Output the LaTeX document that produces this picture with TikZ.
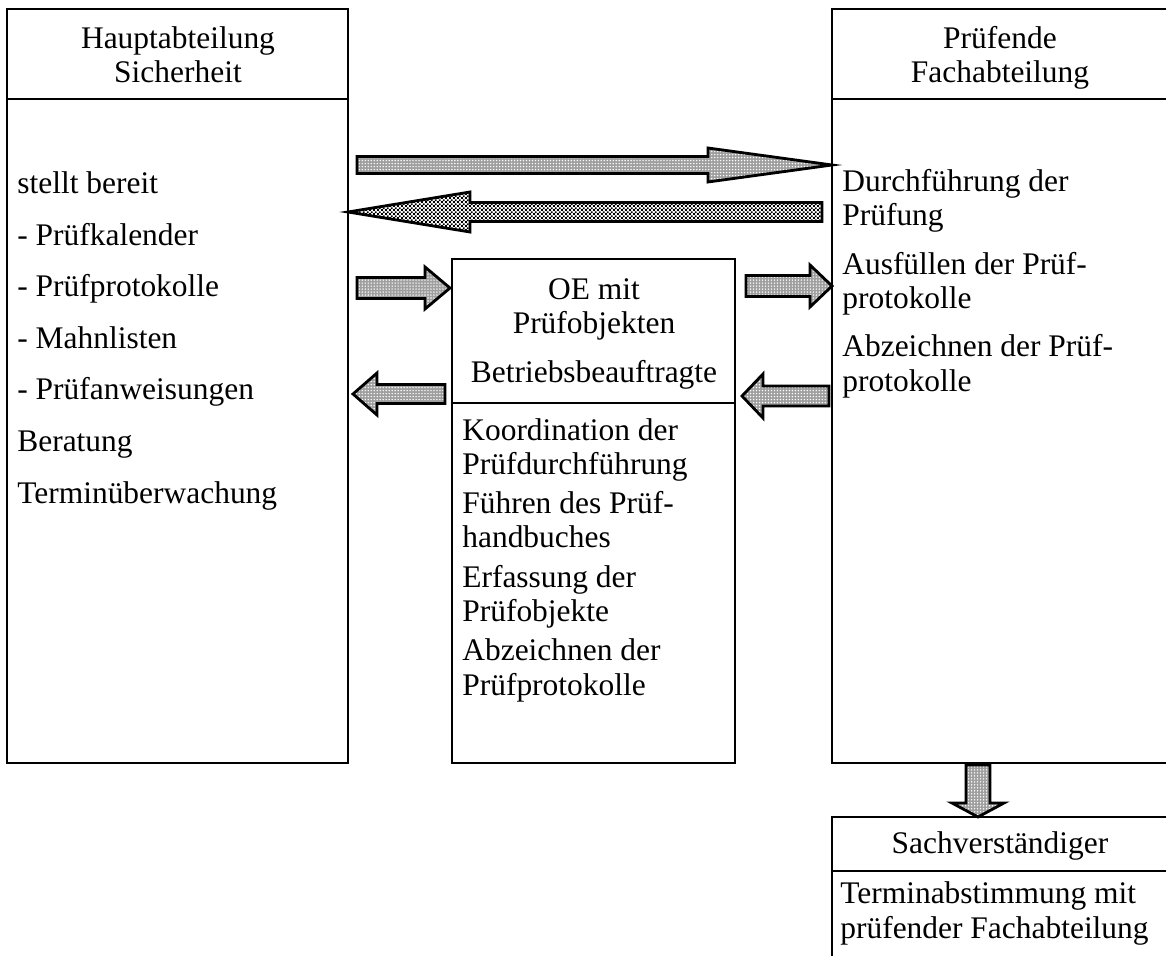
\documentclass[tikz,border=0pt]{standalone}
\usepackage{fontspec}
\setmainfont{Liberation Serif}
\usetikzlibrary{patterns}

% fine fill patterns of the block arrows
\pgfdeclarepatternformonly{feinpunkte}{\pgfqpoint{-0.5pt}{-0.5pt}}{\pgfqpoint{2pt}{2pt}}{\pgfqpoint{1.7pt}{1.7pt}}{%
  \pgfpathcircle{\pgfqpoint{0.5pt}{0.5pt}}{0.45pt}\pgfusepath{fill}}
\pgfdeclarepatternformonly{feinkaro}{\pgfpointorigin}{\pgfqpoint{2.4pt}{2.4pt}}{\pgfqpoint{2.4pt}{2.4pt}}{%
  \pgfpathrectangle{\pgfpointorigin}{\pgfqpoint{1.2pt}{1.2pt}}%
  \pgfpathrectangle{\pgfqpoint{1.2pt}{1.2pt}}{\pgfqpoint{1.2pt}{1.2pt}}\pgfusepath{fill}}

% block arrow: style, x start, x head base, x tip, y, half shaft, half head
\newcommand{\hpfeil}[7]{%
  \path[#1] (#2,#5-#6) -- (#3,#5-#6) -- (#3,#5-#7) -- (#4,#5)
    -- (#3,#5+#7) -- (#3,#5+#6) -- (#2,#5+#6) -- cycle;}

\begin{document}
\begin{tikzpicture}[
      x=0.02cm, y=-0.02cm,
      font=\fontsize{17.9}{19.5}\selectfont,
      % Reusable styles
      kasten/.style={draw=black, line width=0.85pt},
      kopf/.style={inner sep=0pt, align=center, anchor=base},
      txt/.style={inner sep=0pt, align=left, anchor=base west},
      pfeil/.style={
        draw=black,
        line width=1.6pt,
        preaction={fill=gray!75},
        preaction={pattern=feinpunkte, pattern color=white}
      },
      pfeilkaro/.style={
        draw=black,
        line width=1.6pt,
        preaction={fill=white},
        preaction={pattern=feinkaro, pattern color=black}
      }
    ]
    \useasboundingbox (0,0) rectangle (1166,956);
    \clip (0,0) rectangle (1166,956);

    % Boxes
    \draw[kasten] (7,9) rectangle (348,763);
    \draw[kasten] (7,99) -- (348,99);
    \draw[kasten] (452,259) rectangle (735,763);
    \draw[kasten] (452,403) -- (735,403);
    \draw[kasten] (832,9) rectangle (1168,763);
    \draw[kasten] (832,99) -- (1168,99);
    \draw[kasten] (832,817) rectangle (1168,990);
    \draw[kasten] (832,871) -- (1168,871);

    % Headers (placed at the baseline of their last line)
    \node[kopf] (hsKopf) at (178,83) {Hauptabteilung\\Sicherheit};
    \node[kopf] (fachKopf) at (1000,83) {Prüfende\\Fachabteilung};
    \node[kopf] (oeKopf) at (594,382) {OE mit\\Prüfobjekten\\[0.28cm]Betriebsbeauftragte};
    \node[kopf] (svKopf) at (1000,853) {Sachverständiger};

    % Texts
    \node[txt] (hsText) at (17,503) {stellt bereit\\[0.345cm]- Prüfkalender\\[0.345cm]- Prüfprotokolle\\[0.345cm]- Mahnlisten\\[0.345cm]- Prüfanweisungen\\[0.345cm]Beratung\\[0.345cm]Terminüberwachung};
    \node[txt] (oeText) at (462,695) {Koordination der\\Prüfdurchführung\\[0.1cm]Führen des Prüf-\\handbuches\\[0.1cm]Erfassung der\\Prüfobjekte\\[0.1cm]Abzeichnen der\\Prüfprotokolle};
    \node[txt] (fachText) at (842,391) {Durchführung der\\Prüfung\\[0.28cm]Ausfüllen der Prüf-\\protokolle\\[0.28cm]Abzeichnen der Prüf-\\protokolle};
    \node[txt] (svText) at (840,938) {Terminabstimmung mit\\prüfender Fachabteilung};

    % Arrows
    \hpfeil{pfeil}{357}{708}{832}{165}{8.5}{17}
    \hpfeil{pfeilkaro}{822}{470}{348}{212}{9.5}{20}
    \hpfeil{pfeil}{357}{425}{450}{288}{10.5}{21}
    \hpfeil{pfeil}{746}{810}{832}{286}{10.5}{21}
    \hpfeil{pfeil}{445}{377}{353}{394}{9.5}{21}
    \hpfeil{pfeil}{829}{763}{742}{396}{10}{22}
    \path[pfeil] (966,765) -- (966,803) -- (952,803) -- (978,817)
      -- (1004,803) -- (990,803) -- (990,765) -- cycle;
  \end{tikzpicture}
\end{document}
